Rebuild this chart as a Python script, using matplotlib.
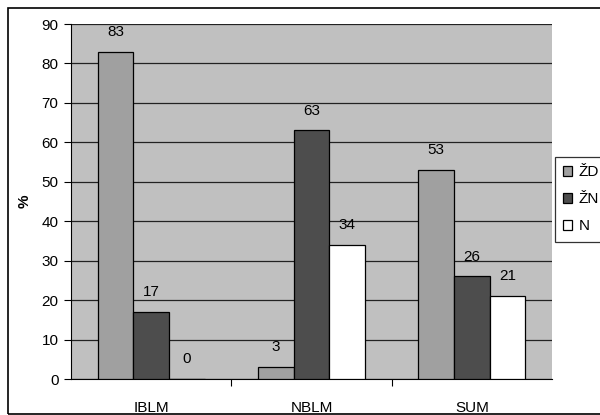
import numpy as np
import matplotlib.pyplot as plt
from matplotlib.patches import Rectangle

plt.rcParams['font.family'] = ['Liberation Sans', 'DejaVu Sans']

categories = ['IBLM', 'NBLM', 'SUM']
series_names = ['ŽD', 'ŽN', 'N']
zd = [83, 3, 53]
zn = [17, 63, 26]
n = [0, 34, 21]
values = [zd, zn, n]
colors = ['#a0a0a0', '#4d4d4d', '#ffffff']

fig = plt.figure(figsize=(6.0, 4.15), dpi=100)
ax = fig.add_axes([71 / 600, 1 - 379 / 415, 481 / 600, 355 / 415])
ax.set_facecolor('#c0c0c0')

# figure border
fig.add_artist(Rectangle((8 / 600, 0.002), 0.995, 1 - 8 / 415 - 0.002,
                         transform=fig.transFigure, fill=False,
                         edgecolor='black', linewidth=1.2))

x = np.arange(len(categories))
w = 1 / 4.5
for i, (vals, col, name) in enumerate(zip(values, colors, series_names)):
    pos = x + (i - 1) * w
    ax.bar(pos, vals, width=w, color=col, edgecolor='black', linewidth=0.9,
           label=name, zorder=3)
    for p, v in zip(pos, vals):
        ax.text(p, v + 4, str(v), ha='center', va='baseline', fontsize=11)

ax.set_xlim(-0.5, 2.5)
ax.set_ylim(0, 90)
ax.set_yticks(range(0, 91, 10))
ax.yaxis.grid(True, color='#222222', linewidth=0.9, zorder=1)
ax.set_axisbelow(True)
ax.set_xticks([0.5, 1.5], minor=False)
ax.set_xticklabels([])
ax.set_xticks(x, minor=True)
ax.set_xticklabels(categories, minor=True)
ax.tick_params(axis='x', which='minor', length=0, pad=16, labelsize=11)
ax.tick_params(axis='x', which='major', length=5, direction='out')
ax.tick_params(axis='y', length=5, direction='out', labelsize=11, pad=4)
for s in ['top', 'right']:
    ax.spines[s].set_visible(False)
ax.spines['left'].set_color('black')
ax.spines['bottom'].set_color('black')
ax.set_ylabel('%', fontweight='bold', fontsize=11, labelpad=7)

leg = ax.legend(loc='upper left', bbox_to_anchor=(555 / 600, 1 - 157 / 415),
                bbox_transform=fig.transFigure, frameon=True, fancybox=False,
                edgecolor='black', fontsize=11, handlelength=0.55,
                handleheight=0.55, handletextpad=0.45, borderpad=0.55,
                labelspacing=0.85, borderaxespad=0)
leg.get_frame().set_linewidth(0.9)

fig.savefig('out.png', dpi=100)
